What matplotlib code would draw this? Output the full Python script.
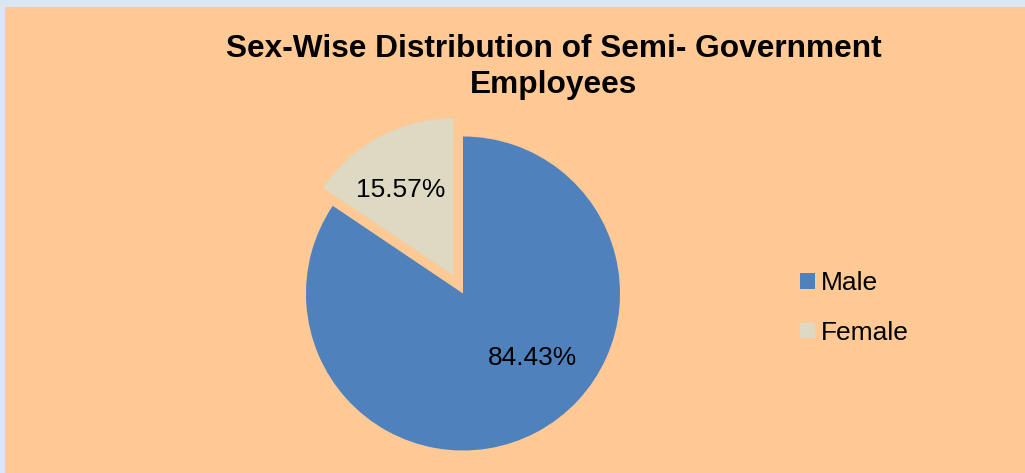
import matplotlib.pyplot as plt
from matplotlib.patches import Rectangle, Patch

plt.rcParams['font.family'] = ['Liberation Sans', 'DejaVu Sans']

genders = ['Male', 'Female']
shares = [84.43, 15.57]
colors = ['#4f81bd', '#ddd9c3']

W, H = 1025, 473
fig = plt.figure(figsize=(W / 100, H / 100), dpi=100)
fig.patch.set_facecolor('#dce6f2')
fig.add_artist(Rectangle((5 / W, 0), 1, (H - 7) / H, transform=fig.transFigure,
                         facecolor='#ffc996', edgecolor='none', zorder=0))

# pie centre (463, 293.5) px, radius ~157 px
r = 157
lim = 1.2
side = 2 * lim * r
ax = fig.add_axes([(463 - side / 2) / W, (H - 293.5 - side / 2) / H, side / W, side / H])

wedges, texts, pcts = ax.pie(shares, colors=colors, startangle=90, counterclock=False,
                             explode=[0, 0.13], autopct='%.2f%%', pctdistance=0.62,
                             textprops={'fontsize': 19, 'color': 'black'})
ax.set_xlim(-lim, lim)
ax.set_ylim(-lim, lim)
ax.axis('off')
# Excel style label spots
pcts[0].set_position((0.44, -0.41))
pcts[1].set_position((-0.40, 0.66))

fig.text(554 / W, 1 - 67 / H, 'Sex-Wise Distribution of Semi- Government\nEmployees',
         ha='center', va='center', fontsize=22.8, fontweight='bold', linespacing=1.25)

handles = [Patch(facecolor=c, edgecolor='none') for c in colors]
fig.legend(handles, genders, loc='center left', bbox_to_anchor=(800 / W, 1 - 308 / H),
           frameon=False, fontsize=19, handlelength=0.55, handleheight=0.55,
           handletextpad=0.25, labelspacing=0.97, borderpad=0, borderaxespad=0)

fig.savefig('out.png', dpi=100, facecolor=fig.get_facecolor())
